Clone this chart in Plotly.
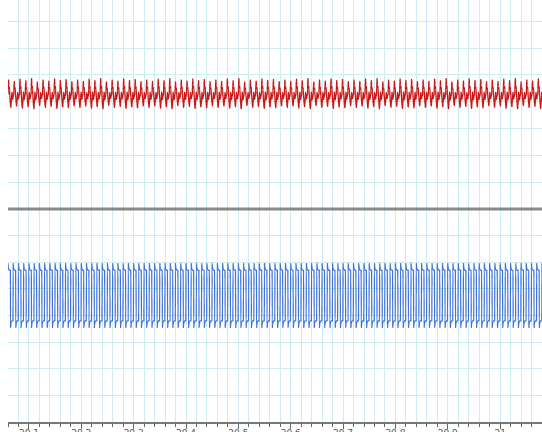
import numpy as np
import plotly.graph_objects as go
from plotly.subplots import make_subplots

# ---- data ----
time_start = 20.06          # s
time_end = 21.08            # s
sample_step = 0.0005        # s

# one period of the blue (square-like) trace, 20 samples = 10 ms
blue_cycle = [5.95, 5.82, 5.76, 5.73, 5.71, 5.70, 5.70, 5.70, 5.70, 5.70,
              3.55, 3.68, 3.74, 3.77, 3.79, 3.80, 3.80, 3.80, 3.80, 3.80]

# one period of the red (jagged sawtooth-like) trace, 22 samples = 11 ms
red_cycle = [4.30, 4.62, 4.82, 4.66, 4.50, 4.56, 4.40, 4.26, 4.10, 3.98, 3.86,
             3.80, 3.95, 4.06, 4.20, 4.36, 4.30, 4.18, 4.10, 4.16, 4.22, 4.26]
# cycle-to-cycle amplitude wobble seen on the red trace
red_cycle_scale = [1.00, 0.90, 1.06, 0.95, 1.10, 0.86, 1.00, 0.92, 1.08, 0.97, 1.03, 0.88]
red_center = 4.30

x_ticks = [20.1, 20.2, 20.3, 20.4, 20.5, 20.6, 20.7, 20.8, 20.9, 21.0]
x_tick_text = ["20.1", "20.2", "20.3", "20.4", "20.5", "20.6", "20.7", "20.8", "20.9", "21"]

# ---- build series ----
t = np.arange(time_start, time_end + sample_step / 2, sample_step)
n = len(t)

blue = np.resize(np.array(blue_cycle), n)

rc = np.array(red_cycle)
red_list = []
k = 0
while len(red_list) < n:
    s = red_cycle_scale[k % len(red_cycle_scale)]
    red_list.extend(list(red_center + (rc - red_center) * s))
    k += 1
red = np.array(red_list[:n])

GRID = "#cdedf3"
SPLIT = 0.505

fig = make_subplots(rows=2, cols=1, shared_xaxes=True, vertical_spacing=0.0,
                    row_heights=[1 - SPLIT, SPLIT])

fig.add_trace(go.Scattergl(x=t, y=red, mode="lines",
                           line=dict(color="#c81818", width=1.3),
                           showlegend=False, hoverinfo="skip"), row=1, col=1)
fig.add_trace(go.Scattergl(x=t, y=blue, mode="lines",
                           line=dict(color="#3f74d6", width=1.2),
                           showlegend=False, hoverinfo="skip"), row=2, col=1)

xcommon = dict(range=[time_start, time_end], showgrid=True, gridcolor=GRID, gridwidth=1,
               zeroline=False, automargin=False,
               minor=dict(dtick=0.02, showgrid=True, gridcolor=GRID, gridwidth=1))

fig.update_xaxes(**xcommon)
fig.update_xaxes(row=1, col=1, showticklabels=False, ticks="", showline=False,
                 minor=dict(dtick=0.02, showgrid=True, gridcolor=GRID, gridwidth=1, ticks=""))
fig.update_xaxes(row=2, col=1, showticklabels=True, tickvals=x_ticks, ticktext=x_tick_text,
                 ticks="outside", ticklen=5, tickcolor="#666", tickwidth=1,
                 ticklabelstandoff=-4,
                 showline=True, linecolor="#777", linewidth=2,
                 tickfont=dict(family="DejaVu Sans", size=9, color="#555"),
                 minor=dict(dtick=0.02, showgrid=True, gridcolor=GRID, gridwidth=1,
                            ticks="outside", ticklen=3, tickcolor="#666"))

fig.update_yaxes(row=1, col=1, range=[0, 7.8], dtick=1, showgrid=True, gridcolor=GRID,
                 gridwidth=1, showticklabels=False, zeroline=False, ticks="", automargin=False)
fig.update_yaxes(row=2, col=1, range=[0, 8], dtick=1, showgrid=True, gridcolor=GRID,
                 gridwidth=1, showticklabels=False, zeroline=False, ticks="", automargin=False)

# solid grey separator between the two panels
fig.add_shape(type="line", xref="paper", yref="paper", x0=0, x1=1, y0=SPLIT, y1=SPLIT,
              line=dict(color="#8a8a8a", width=3), layer="above")

fig.update_layout(width=542, height=432, margin=dict(l=8, r=0, t=0, b=10),
                  plot_bgcolor="white", paper_bgcolor="white")

fig.write_html("out.html", config={"displayModeBar": False},
               post_script="document.body.style.margin='0';document.body.style.overflow='hidden';")
